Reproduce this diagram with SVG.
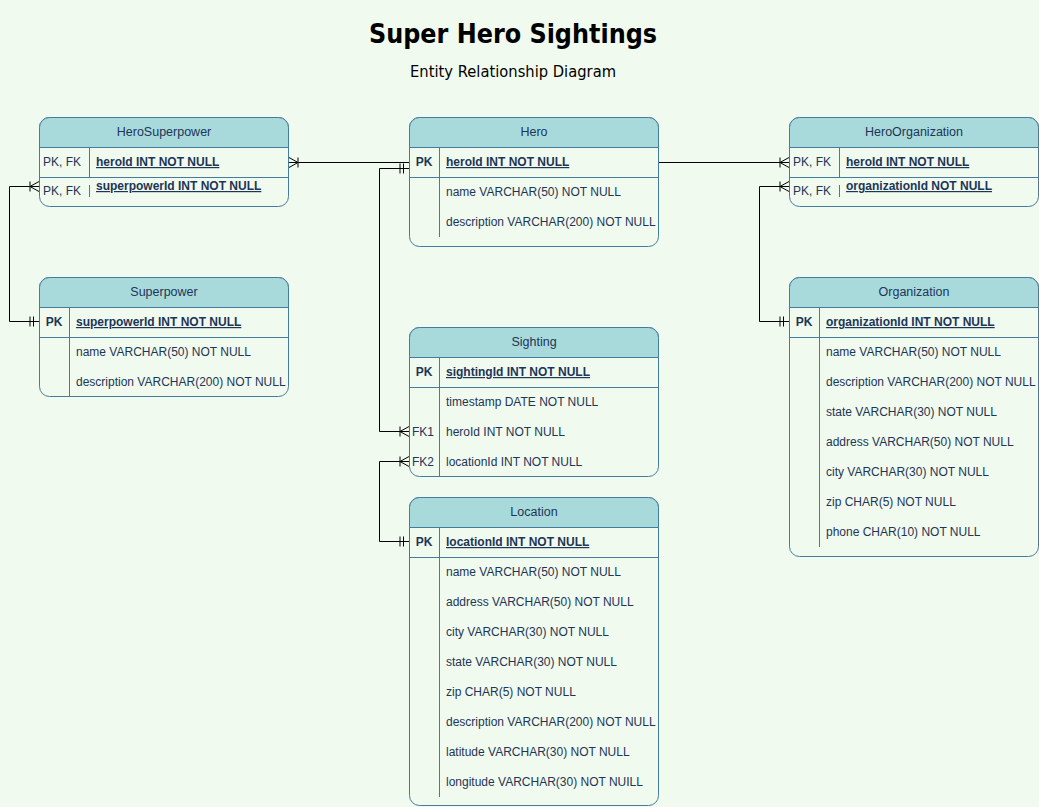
<svg xmlns="http://www.w3.org/2000/svg" width="1039" height="807" viewBox="0 0 1039 807">
<style>
.tbl{fill:#F1FAEE;stroke:#457B9D;stroke-width:1}
.hdr{fill:#A8DADC;stroke:#457B9D;stroke-width:1}
.ln{stroke:#457B9D;stroke-width:1;fill:none}
text{font-family:"Liberation Sans",Arial,sans-serif;font-size:12px;fill:#1D3557}
.h{text-anchor:middle;font-size:12.5px}
.pk{font-weight:bold;text-decoration:underline}
.pkl{font-weight:bold}
.c{text-anchor:middle}
.con{fill:none;stroke:#000;stroke-width:1}
.title{font-family:"Comic Sans MS","DejaVu Sans",sans-serif;font-weight:bold;font-size:26px;fill:#000;text-anchor:middle}
.sub{font-family:"Comic Sans MS","DejaVu Sans",sans-serif;font-size:15px;fill:#000;text-anchor:middle}
</style>
<defs>
<marker id="crow" viewBox="-12 -6 14 12" refX="0" refY="0" markerWidth="14" markerHeight="12" markerUnits="userSpaceOnUse" orient="auto-start-reverse">
<path d="M-9,0 L0,-5 M-9,0 L0,5 M-9,-5 V5" fill="none" stroke="#000" stroke-width="1"/>
</marker>
<marker id="one" viewBox="-12 -6 14 12" refX="0" refY="0" markerWidth="14" markerHeight="12" markerUnits="userSpaceOnUse" orient="auto-start-reverse">
<path d="M-9,-5 V5 M-5.5,-5 V5" fill="none" stroke="#000" stroke-width="1"/>
</marker>
</defs>
<rect width="1039" height="807" fill="#F1FAEE"/>
<g id="title">
<text class="title" x="513" y="43" textLength="288" lengthAdjust="spacingAndGlyphs">Super Hero Sightings</text>
<text class="sub" x="513" y="77" textLength="206" lengthAdjust="spacingAndGlyphs">Entity Relationship Diagram</text>
</g>
<g id="connectors">
<path class="con" d="M289,162.5 H409" marker-start="url(#crow)"/>
<path class="con" d="M409,168.5 H379.5 V431.5 H409" marker-start="url(#one)" marker-end="url(#crow)"/>
<path class="con" d="M409,461.5 H379.5 V541.5 H409" marker-start="url(#crow)" marker-end="url(#one)"/>
<path class="con" d="M659,162.5 H789" marker-end="url(#crow)"/>
<path class="con" d="M789,186.5 H759.5 V321.5 H789" marker-start="url(#crow)" marker-end="url(#one)"/>
<path class="con" d="M39,186.5 H9.5 V321.5 H39" marker-start="url(#crow)" marker-end="url(#one)"/>
</g>
<g id="HeroSuperpower">
<rect class="tbl" x="39.5" y="117.5" width="249" height="89" rx="10"/>
<path class="hdr" d="M39.5,147.5 V127.5 A10,10 0 0 1 49.5,117.5 H278.5 A10,10 0 0 1 288.5,127.5 V147.5 Z"/>
<path class="ln" d="M39.5,177.5 H288.5 M89.5,147.5 V177.5 M89.5,185 V197"/>
<text class="h" x="164" y="136">HeroSuperpower</text>
<text x="43" y="166">PK, FK</text>
<text class="pk" x="96" y="166">heroId INT NOT NULL</text>
<text x="43" y="195">PK, FK</text>
<text class="pk" x="96" y="190">superpowerId INT NOT NULL</text>
</g>
<g id="Hero">
<rect class="tbl" x="409.5" y="117.5" width="249" height="129" rx="10"/>
<path class="hdr" d="M409.5,147.5 V127.5 A10,10 0 0 1 419.5,117.5 H648.5 A10,10 0 0 1 658.5,127.5 V147.5 Z"/>
<path class="ln" d="M409.5,177.5 H658.5 M439.5,147.5 V237"/>
<text class="h" x="534" y="136">Hero</text>
<text class="pkl c" x="424" y="166">PK</text>
<text class="pk" x="446" y="166">heroId INT NOT NULL</text>
<text x="446" y="196">name VARCHAR(50) NOT NULL</text>
<text x="446" y="226">description VARCHAR(200) NOT NULL</text>
</g>
<g id="HeroOrganization">
<rect class="tbl" x="789.5" y="117.5" width="249" height="89" rx="10"/>
<path class="hdr" d="M789.5,147.5 V127.5 A10,10 0 0 1 799.5,117.5 H1028.5 A10,10 0 0 1 1038.5,127.5 V147.5 Z"/>
<path class="ln" d="M789.5,177.5 H1038.5 M839.5,147.5 V177.5 M839.5,185 V197"/>
<text class="h" x="914" y="136">HeroOrganization</text>
<text x="793" y="166">PK, FK</text>
<text class="pk" x="846" y="166">heroId INT NOT NULL</text>
<text x="793" y="195">PK, FK</text>
<text class="pk" x="846" y="190">organizationId NOT NULL</text>
</g>
<g id="Superpower">
<rect class="tbl" x="39.5" y="277.5" width="249" height="119" rx="10"/>
<path class="hdr" d="M39.5,307.5 V287.5 A10,10 0 0 1 49.5,277.5 H278.5 A10,10 0 0 1 288.5,287.5 V307.5 Z"/>
<path class="ln" d="M39.5,337.5 H288.5 M69.5,307.5 V396.5"/>
<text class="h" x="164" y="296">Superpower</text>
<text class="pkl c" x="54" y="326">PK</text>
<text class="pk" x="76" y="326">superpowerId INT NOT NULL</text>
<text x="76" y="356">name VARCHAR(50) NOT NULL</text>
<text x="76" y="386">description VARCHAR(200) NOT NULL</text>
</g>
<g id="Organization">
<rect class="tbl" x="789.5" y="277.5" width="249" height="279" rx="10"/>
<path class="hdr" d="M789.5,307.5 V287.5 A10,10 0 0 1 799.5,277.5 H1028.5 A10,10 0 0 1 1038.5,287.5 V307.5 Z"/>
<path class="ln" d="M789.5,337.5 H1038.5 M819.5,307.5 V547"/>
<text class="h" x="914" y="296">Organization</text>
<text class="pkl c" x="804" y="326">PK</text>
<text class="pk" x="826" y="326">organizationId INT NOT NULL</text>
<text x="826" y="356">name VARCHAR(50) NOT NULL</text>
<text x="826" y="386">description VARCHAR(200) NOT NULL</text>
<text x="826" y="416">state VARCHAR(30) NOT NULL</text>
<text x="826" y="446">address VARCHAR(50) NOT NULL</text>
<text x="826" y="476">city VARCHAR(30) NOT NULL</text>
<text x="826" y="506">zip CHAR(5) NOT NULL</text>
<text x="826" y="536">phone CHAR(10) NOT NULL</text>
</g>
<g id="Sighting">
<rect class="tbl" x="409.5" y="327.5" width="249" height="149" rx="10"/>
<path class="hdr" d="M409.5,357.5 V337.5 A10,10 0 0 1 419.5,327.5 H648.5 A10,10 0 0 1 658.5,337.5 V357.5 Z"/>
<path class="ln" d="M409.5,387.5 H658.5 M439.5,357.5 V476.5"/>
<text class="h" x="534" y="346">Sighting</text>
<text class="pkl c" x="424" y="376">PK</text>
<text class="pk" x="446" y="376">sightingId INT NOT NULL</text>
<text x="446" y="406">timestamp DATE NOT NULL</text>
<text x="412" y="436">FK1</text>
<text x="446" y="436">heroId INT NOT NULL</text>
<text x="412" y="466">FK2</text>
<text x="446" y="466">locationId INT NOT NULL</text>
</g>
<g id="Location">
<rect class="tbl" x="409.5" y="497.5" width="249" height="308" rx="10"/>
<path class="hdr" d="M409.5,527.5 V507.5 A10,10 0 0 1 419.5,497.5 H648.5 A10,10 0 0 1 658.5,507.5 V527.5 Z"/>
<path class="ln" d="M409.5,557.5 H658.5 M439.5,527.5 V797"/>
<text class="h" x="534" y="516">Location</text>
<text class="pkl c" x="424" y="546">PK</text>
<text class="pk" x="446" y="546">locationId INT NOT NULL</text>
<text x="446" y="576">name VARCHAR(50) NOT NULL</text>
<text x="446" y="606">address VARCHAR(50) NOT NULL</text>
<text x="446" y="636">city VARCHAR(30) NOT NULL</text>
<text x="446" y="666">state VARCHAR(30) NOT NULL</text>
<text x="446" y="696">zip CHAR(5) NOT NULL</text>
<text x="446" y="726">description VARCHAR(200) NOT NULL</text>
<text x="446" y="756">latitude VARCHAR(30) NOT NULL</text>
<text x="446" y="786">longitude VARCHAR(30) NOT NUILL</text>
</g>
</svg>
